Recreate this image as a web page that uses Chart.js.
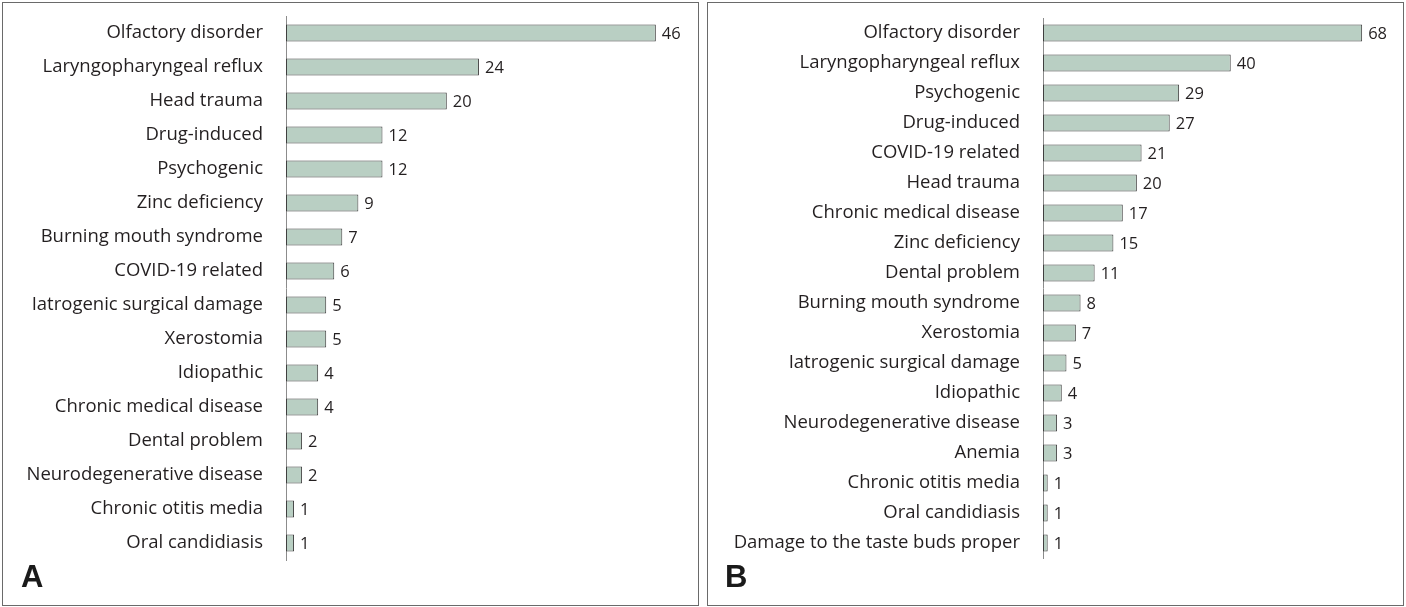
<!DOCTYPE html>
<html>
<head>
<meta charset="utf-8">
<script src="https://cdn.jsdelivr.net/npm/chart.js@4/dist/chart.umd.min.js"></script>
<style>
  html, body { margin: 0; padding: 0; background: #fff; }
  body { width: 1406px; height: 607px; position: relative; overflow: hidden; }
  .panel { position: absolute; top: 2px; height: 604px; width: 697px; border: 1px solid #6a6a6a; box-sizing: border-box; }
  #pa { left: 2px; }
  #pb { left: 707px; }
  .wrap { position: absolute; left: 0; top: 0; width: 695px; height: 602px; }
  .tag { position: absolute; font-family: "Liberation Sans", Arial, sans-serif; font-weight: bold; font-size: 31px; color: #1a1a1a; line-height: 1; }
</style>
</head>
<body>
<div class="panel" id="pa">
  <div class="wrap"><canvas id="ca"></canvas></div>
  <div class="tag" style="left:18px; top:558px;">A</div>
</div>
<div class="panel" id="pb">
  <div class="wrap"><canvas id="cb"></canvas></div>
  <div class="tag" style="left:17px; top:558px;">B</div>
</div>
<script>
const categoriesA = ["Olfactory disorder", "Laryngopharyngeal reflux", "Head trauma", "Drug-induced", "Psychogenic", "Zinc deficiency", "Burning mouth syndrome", "COVID-19 related", "Iatrogenic surgical damage", "Xerostomia", "Idiopathic", "Chronic medical disease", "Dental problem", "Neurodegenerative disease", "Chronic otitis media", "Oral candidiasis"];
const valuesA = [46, 24, 20, 12, 12, 9, 7, 6, 5, 5, 4, 4, 2, 2, 1, 1];

const categoriesB = ["Olfactory disorder", "Laryngopharyngeal reflux", "Psychogenic", "Drug-induced", "COVID-19 related", "Head trauma", "Chronic medical disease", "Zinc deficiency", "Dental problem", "Burning mouth syndrome", "Xerostomia", "Iatrogenic surgical damage", "Idiopathic", "Neurodegenerative disease", "Anemia", "Chronic otitis media", "Oral candidiasis", "Damage to the taste buds proper"];
const valuesB = [68, 40, 29, 27, 21, 20, 17, 15, 11, 8, 7, 5, 4, 3, 3, 1, 1, 1];

const FONT_FAMILY = '"Open Sans", "DejaVu Sans", sans-serif';
const LABEL_SIZE = 18.5;
const VALUE_SIZE = 16.5;
const TEXT_COLOR = '#231f20';

const valueLabels = {
  id: 'valueLabels',
  afterDatasetsDraw(chart) {
    const ctx = chart.ctx;
    const meta = chart.getDatasetMeta(0);
    const data = chart.data.datasets[0].data;
    ctx.save();
    ctx.font = VALUE_SIZE + 'px ' + FONT_FAMILY;
    ctx.fillStyle = TEXT_COLOR;
    ctx.textAlign = 'left';
    ctx.textBaseline = 'middle';
    meta.data.forEach((bar, i) => {
      ctx.fillText(String(data[i]), bar.x + 6, bar.y + 1);
    });
    ctx.restore();
  }
};

function makeChart(id, cats, vals, cfg) {
  return new Chart(document.getElementById(id), {
    type: 'bar',
    data: {
      labels: cats,
      datasets: [{
        data: vals,
        backgroundColor: '#b9cfc3',
        borderColor: '#3f3f3f',
        borderWidth: 1,
        borderSkipped: false,
        barPercentage: cfg.barPct,
        categoryPercentage: 1
      }]
    },
    options: {
      indexAxis: 'y',
      responsive: true,
      maintainAspectRatio: false,
      animation: false,
      layout: { padding: { left: 0, right: cfg.padRight, top: cfg.padTop, bottom: cfg.padBottom } },
      plugins: { legend: { display: false }, tooltip: { enabled: false } },
      scales: {
        x: {
          display: false,
          min: 0,
          max: cfg.xMax
        },
        y: {
          grid: { display: false, drawTicks: false },
          border: { display: true, color: '#8c8c8c', width: 1 },
          ticks: {
            color: TEXT_COLOR,
            font: { family: FONT_FAMILY, size: LABEL_SIZE },
            padding: 23,
            autoSkip: false
          },
          afterFit(scale) {
            scale.width = cfg.yWidth;
            scale.paddingTop = 0;
            scale.paddingBottom = 0;
          }
        }
      }
    },
    plugins: [valueLabels]
  });
}

makeChart('ca', categoriesA, valuesA, { barPct: 0.5, padRight: 10, padTop: 13, padBottom: 45, xMax: 50, yWidth: 283 });
makeChart('cb', categoriesB, valuesB, { barPct: 0.567, padRight: 8, padTop: 15, padBottom: 47, xMax: 75, yWidth: 335 });
</script>
</body>
</html>
